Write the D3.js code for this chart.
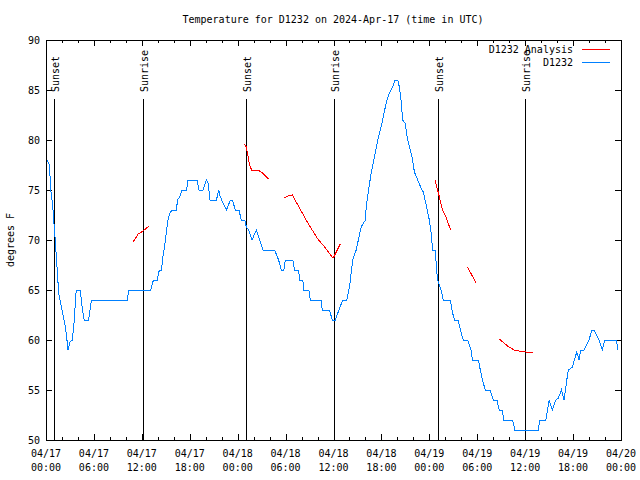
<!DOCTYPE html>
<html><head><meta charset="utf-8">
<script src="https://cdn.jsdelivr.net/npm/d3@7"></script>
<style>
body{margin:0;background:#fff;}
svg{display:block;font-family:"DejaVu Sans Mono",monospace;font-size:10px;}
</style></head><body>
<svg id="c" width="640" height="480"></svg>
<script>
// Observed temperature (hours since 2024-04-17 00:00 UTC, degrees F)
const obsHours = [0.16,0.38,0.5,0.6,0.84,0.96,1.09,1.34,1.46,1.59,1.84,2.09,2.34,2.59,2.75,3.0,3.3,3.54,3.75,3.91,4.29,4.46,4.71,4.79,5.34,5.46,5.63,5.71,10.16,10.38,13.13,13.34,13.46,13.96,14.09,14.21,14.46,14.59,14.71,14.84,14.96,15.21,15.34,15.59,15.84,16.34,16.46,16.75,17.04,17.59,17.79,18.91,19.16,19.66,20.09,20.29,20.54,21.34,21.63,21.75,22.09,22.59,23.09,23.34,23.71,24.16,24.46,24.88,25.09,25.38,25.79,26.34,26.75,27.16,28.63,29.13,29.46,29.79,29.96,30.91,31.13,31.63,31.75,32.16,32.29,32.91,33.09,34.46,34.59,35.5,35.84,36.21,36.54,37.16,37.66,38.0,38.41,38.84,39.46,40.0,40.09,40.71,41.13,41.63,42.16,42.59,43.0,43.41,43.71,44.04,44.25,44.46,44.66,44.96,45.29,45.84,46.13,46.54,46.96,47.25,47.66,48.0,48.21,48.41,48.75,48.91,49.04,49.46,49.75,50.63,50.91,51.16,51.59,51.96,52.25,52.79,53.21,53.41,54.16,54.38,54.66,55.0,55.59,56.0,56.46,56.75,57.16,57.29,58.41,58.71,61.63,61.84,62.59,63.0,63.41,63.84,64.16,64.54,64.88,65.21,65.41,65.91,66.46,66.75,66.96,67.38,68.0,68.34,68.63,69.25,69.66,69.96,71.41,71.63];
const obsTemps = [78,77.6,76.4,75,73.4,72,70.7,67.8,66.3,64.7,63.7,62.7,61.7,60.3,59,59.8,60,62,64.7,65,65,63.7,62.3,62,62,62.7,63.7,64,64,65,65,65.7,66,66,66.7,67,67,68,68.7,69.3,70,71.7,72.3,72.8,73,73,74,74.3,75,75,76,76,75,75,76,75.7,74,74,75,74.5,73.8,73,74,74,73,73,72,72,71.3,71,70,71,70,69,69,68,67,67,68,68,67,67,66,66,65,65,64,64,63,63,62,62,62.7,64,64,65.3,68,69,71.3,72,73.3,76.7,78.3,80.3,82,83.7,84.7,85.3,86,86,85.3,84,82,81.7,80,78.3,76.8,76,75.2,74.8,73.3,72,70.8,69,69,67,66,65,64,64,62.7,62,62,60.8,60,60,59,58,58,57,56,55,55,54,54,53,53,52,52,51,51,52,52,54,53,54,54.2,55,54,56,57,57.3,58.8,58,59,59,60,61,61,60,59,60,60,59];

// Analysis (null = gap)
const anaHours = [10.91,11.54,12.16,12.91,null,24.79,25.09,25.5,25.79,26.54,26.96,27.88,null,29.79,30.29,30.84,31.75,32.79,34.04,35.0,35.84,36.04,36.84,null,48.71,49.04,49.66,50.09,50.66,null,52.79,53.84,null,56.75,57.79,58.63,59.25,60.09,61.0];
const anaTemps = [69.8,70.6,70.9,71.4,null,79.6,79.3,77.5,76.9,77,76.8,76.1,null,74.2,74.4,74.5,73.2,71.7,70.1,69.2,68.3,68.3,69.6,null,76,75,73,72.3,71,null,67.3,65.7,null,60.1,59.4,59,58.9,58.8,58.7];

// Sun events
const sunHours = [1.04,12.16,25.04,36.04,49.04,60.04];
const sunLabels = ["Sunset","Sunrise","Sunset","Sunrise","Sunset","Sunrise"];

const yTicks = [50,55,60,65,70,75,80,85,90];
const seriesNames = ["D1232 Analysis","D1232"];
const seriesColors = ["#ff0000","#0080ff"];
const titleText = "Temperature for D1232 on 2024-Apr-17 (time in UTC)";
const yLabel = "degrees F";

const base = Date.UTC(2024,3,17);
const toDate = h => new Date(base + h*3600000);

const L=46,R=621,T=40,B=440;
const svg = d3.select("#c");
const x = d3.scaleUtc().domain([toDate(0),toDate(72)]).range([L,R]);
const y = d3.scaleLinear().domain([50,90]).range([B,T]);

const majorX = d3.range(0,73,6).map(toDate);
const minorX = d3.range(0,73,2).filter(h=>h%6!==0).map(toDate);

function styleAxis(g){ g.select(".domain").remove(); g.selectAll("line").attr("stroke","#000"); g.attr("shape-rendering","crispEdges"); }

// bottom
svg.append("g").attr("transform",`translate(0,${B})`)
  .call(d3.axisBottom(x).tickValues(majorX).tickSize(-6).tickPadding(0).tickFormat(""))
  .call(styleAxis);
svg.append("g").attr("transform",`translate(0,${B})`)
  .call(d3.axisBottom(x).tickValues(minorX).tickSize(-3).tickFormat(""))
  .call(styleAxis);
// top
svg.append("g").attr("transform",`translate(0,${T})`)
  .call(d3.axisTop(x).tickValues(majorX).tickSize(-6).tickFormat(""))
  .call(styleAxis);
svg.append("g").attr("transform",`translate(0,${T})`)
  .call(d3.axisTop(x).tickValues(minorX).tickSize(-3).tickFormat(""))
  .call(styleAxis);
// left
svg.append("g").attr("transform",`translate(${L},0)`)
  .call(d3.axisLeft(y).tickValues(yTicks).tickSize(-6).tickPadding(6).tickFormat(d3.format("d")))
  .call(styleAxis)
  .call(g=>g.selectAll("text").attr("font-family","DejaVu Sans Mono").attr("font-size",10).attr("fill","#000"));
// right
svg.append("g").attr("transform",`translate(${R},0)`)
  .call(d3.axisRight(y).tickValues(yTicks).tickSize(-6).tickFormat(""))
  .call(styleAxis);

// x labels (two lines)
const fmtD = d3.utcFormat("%m/%d"), fmtT = d3.utcFormat("%H:%M");
const xl = svg.append("g").selectAll("text").data(majorX).join("text")
  .attr("x",d=>x(d)).attr("text-anchor","middle").attr("fill","#000");
xl.append("tspan").attr("x",d=>x(d)).attr("y",457).text(d=>fmtD(d));
xl.append("tspan").attr("x",d=>x(d)).attr("y",471).text(d=>fmtT(d));

// sun lines
const sun = svg.append("g");
sun.selectAll("line").data(sunHours).join("line")
  .attr("x1",d=>Math.round(x(toDate(d)))+0.5).attr("x2",d=>Math.round(x(toDate(d)))+0.5)
  .attr("y1",99).attr("y2",B).attr("stroke","#000").attr("stroke-width",1);
sun.selectAll("text").data(sunHours).join("text")
  .attr("transform",d=>`translate(${Math.round(x(toDate(d)))+5},92) rotate(-90)`)
  .attr("fill","#000").text((d,i)=>sunLabels[i]);

// border
svg.append("rect").attr("x",L+0.5).attr("y",T+0.5).attr("width",R-L).attr("height",B-T)
  .attr("fill","none").attr("stroke","#000").attr("shape-rendering","crispEdges");

// data lines
const lineObs = d3.line().x((d,i)=>x(toDate(obsHours[i]))).y((d,i)=>y(obsTemps[i]));
svg.append("path").attr("d",lineObs(obsHours)).attr("fill","none")
  .attr("stroke",seriesColors[1]).attr("stroke-width",1).attr("shape-rendering","crispEdges");
const lineAna = d3.line().defined((d,i)=>anaHours[i]!==null)
  .x((d,i)=>x(toDate(anaHours[i]))).y((d,i)=>y(anaTemps[i]));
svg.append("path").attr("d",lineAna(anaHours)).attr("fill","none")
  .attr("stroke",seriesColors[0]).attr("stroke-width",1).attr("shape-rendering","crispEdges");

// legend
const lg = svg.append("g");
seriesNames.forEach((n,i)=>{
  const yy = 49 + i*13;
  lg.append("text").attr("x",573).attr("y",yy).attr("dy","0.35em").attr("text-anchor","end").attr("fill","#000").text(n);
  lg.append("line").attr("x1",582).attr("x2",610).attr("y1",yy+0.5).attr("y2",yy+0.5)
    .attr("stroke",seriesColors[i]).attr("stroke-width",1).attr("shape-rendering","crispEdges");
});

// title & y label
svg.append("text").attr("x",333).attr("y",23).attr("text-anchor","middle").attr("fill","#000").text(titleText);
svg.append("text").attr("transform","translate(14,240) rotate(-90)").attr("text-anchor","middle").attr("fill","#000").text(yLabel);
</script></body></html>
